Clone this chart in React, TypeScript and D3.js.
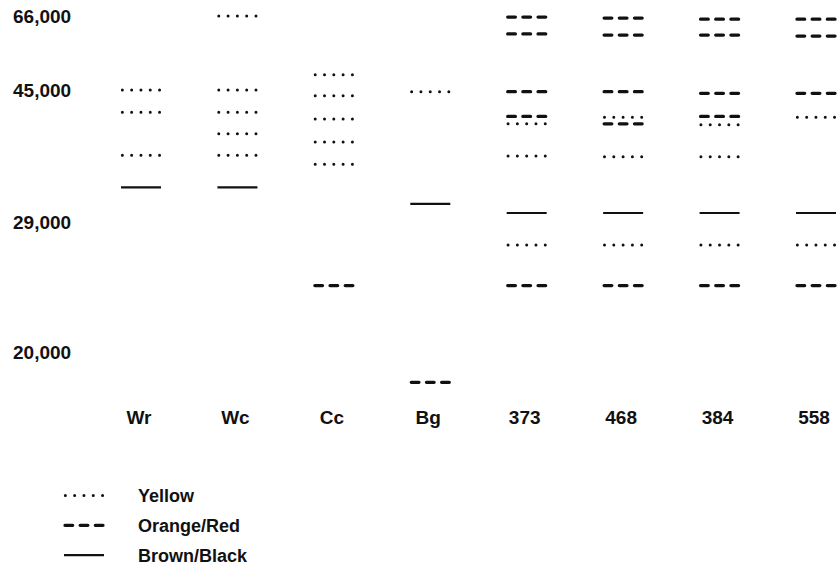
import * as d3 from "d3";

const categories = ["Wr", "Wc", "Cc", "Bg", "373", "468", "384", "558"];

// band positions per category
const yellow = [
  [45000, 42300, 37100],
  [66000, 45000, 42300, 39700, 37100],
  [49300, 44300, 41500, 38700, 36000],
  [44800],
  [40900, 37000, 27400],
  [41700, 36900, 27400],
  [40800, 36900, 27400],
  [41700, 27400],
];
const orangeRed = [
  [],
  [],
  [24600],
  [17900],
  [65700, 60900, 44800, 41800, 24600],
  [65400, 60600, 44800, 40900, 24600],
  [65100, 60600, 44600, 41800, 24600],
  [65100, 60300, 44600, 24600],
];
const brownBlack = [[33200], [33200], [], [31200], [30100], [30100], [30100], [30100]];

const yTicks = [20000, 29000, 45000, 66000];
const legendLabels = ["Yellow", "Orange/Red", "Brown/Black"];

const W = 837;
const H = 565;
const FONT = "'Liberation Sans', Arial, Helvetica, sans-serif";
const INK = "#111";

// the axis is not evenly spaced, so a piecewise scale is used
const y = d3.scaleLinear().domain(yTicks).range([352, 222, 90, 16]);
const x = d3.scalePoint<string>().domain(categories).range([141, 816]);

const styles = [
  { width: 3, dash: "0 9.3", cap: "round", half: 18.65 },
  { width: 3.3, dash: "7.67 7.5", cap: "round", half: 19 },
  { width: 2.1, dash: "none", cap: "butt", half: 20 },
];

function Mark({ cx, cy, kind }: { cx: number; cy: number; kind: number }) {
  const s = styles[kind];
  return (
    <line
      x1={cx - s.half}
      x2={cx + s.half}
      y1={cy}
      y2={cy}
      stroke={INK}
      strokeWidth={s.width}
      strokeDasharray={s.dash}
      strokeLinecap={s.cap as any}
    />
  );
}

export default function App() {
  const series = [yellow, orangeRed, brownBlack];
  const fmt = d3.format(",");

  return (
    <svg
      width={W}
      height={H}
      style={{ position: "absolute", left: 0, top: 0, background: "#fff" }}
      fontFamily={FONT}
      fontWeight="bold"
      fill={INK}
    >
      {/* y labels */}
      {yTicks.map((t) => (
        <text key={t} x={13} y={y(t)} dy="0.36em" fontSize={19}>
          {fmt(t)}
        </text>
      ))}

      {/* marks */}
      {series.map((vals, k) =>
        categories.map((c, i) =>
          vals[i].map((v, j) => (
            <Mark key={`${k}-${c}-${j}`} cx={x(c)!} cy={y(v)} kind={k} />
          ))
        )
      )}

      {/* category labels */}
      {categories.map((c) => (
        <text key={c} x={x(c)! - 2} y={417} dy="0.36em" textAnchor="middle" fontSize={19}>
          {c}
        </text>
      ))}

      {/* legend */}
      {legendLabels.map((l, k) => {
        const ly = 495.5 + k * 29.8;
        return (
          <g key={l}>
            <Mark cx={84} cy={ly} kind={k} />
            <text x={138} y={ly} dy="0.36em" fontSize={18}>
              {l}
            </text>
          </g>
        );
      })}
    </svg>
  );
}
